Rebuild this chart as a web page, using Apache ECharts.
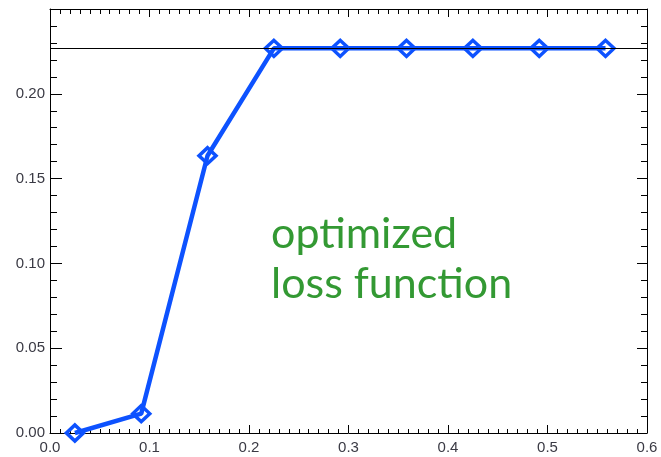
<!DOCTYPE html>
<html>
<head>
<meta charset="utf-8">
<script src="https://cdn.jsdelivr.net/npm/echarts@6/dist/echarts.min.js"></script>
<style>html,body{margin:0;padding:0;background:#fff;}#c{width:661px;height:457px;}</style>
</head>
<body>
<div id="c"></div>
<script>
const xValues = [0.025, 0.0917, 0.1583, 0.225, 0.2917, 0.3583, 0.425, 0.4917, 0.5583];
const yValues = [0.0, 0.0114, 0.1635, 0.2268, 0.2268, 0.2268, 0.2268, 0.2268, 0.2268];
const referenceLevel = 0.2268;
const annotationLines = ['optimized', 'loss function'];

const chart = echarts.init(document.getElementById('c'), null, {renderer: 'canvas'});
const axisCommon = {
  axisLine: {show: true, onZero: false, lineStyle: {color: '#000', width: 1}},
  splitLine: {show: false}
};
const option = {
  animation: false,
  backgroundColor: '#fff',
  grid: {left: 50, right: 14, top: 9, bottom: 24, containLabel: false},
  xAxis: [
    Object.assign({}, axisCommon, {
      type: 'value', min: 0, max: 0.6, interval: 0.1, position: 'bottom',
      axisTick: {show: true, inside: true, length: 8, lineStyle: {color: '#000'}},
      minorTick: {show: true, splitNumber: 10, length: 4, lineStyle: {color: '#000'}},
      axisLabel: {color: '#3a3a44', fontSize: 15, fontFamily: 'Liberation Sans, Arial', margin: 7,
        formatter: v => v.toFixed(1)}
    }),
    Object.assign({}, axisCommon, {
      type: 'value', min: 0, max: 0.6, interval: 0.1, position: 'top',
      axisTick: {show: true, inside: true, length: 8, lineStyle: {color: '#000'}},
      minorTick: {show: true, splitNumber: 10, length: 5, lineStyle: {color: '#000'}},
      axisLabel: {show: false}
    })
  ],
  yAxis: [
    Object.assign({}, axisCommon, {
      type: 'value', min: 0, max: 0.25, interval: 0.05, position: 'left',
      axisTick: {show: true, inside: true, length: 12, lineStyle: {color: '#000'}},
      minorTick: {show: true, splitNumber: 5, length: 7, lineStyle: {color: '#000'}},
      axisLabel: {color: '#3a3a44', fontSize: 15, fontFamily: 'Liberation Sans, Arial', margin: 5,
        formatter: v => v > 0.21 ? '' : v.toFixed(2)}
    }),
    Object.assign({}, axisCommon, {
      type: 'value', min: 0, max: 0.25, interval: 0.05, position: 'right',
      axisTick: {show: true, inside: true, length: 10, lineStyle: {color: '#000'}},
      minorTick: {show: true, splitNumber: 5, length: 6, lineStyle: {color: '#000'}},
      axisLabel: {show: false}
    })
  ],
  series: [{
    type: 'line',
    xAxisIndex: 0, yAxisIndex: 0,
    data: xValues.map((x, i) => [x, yValues[i]]),
    symbol: 'diamond',
    symbolSize: [17, 16],
    showAllSymbol: true,
    clip: false,
    lineStyle: {color: '#0d52ff', width: 4.5},
    itemStyle: {color: 'transparent', borderColor: '#0d52ff', borderWidth: 3.5},
    markLine: {
      silent: true, symbol: 'none', precision: 5,
      label: {show: false},
      lineStyle: {color: '#000', width: 1, type: 'solid'},
      data: [{yAxis: referenceLevel}]
    },
    z: 3
  }],
  graphic: [{
    type: 'text', left: 271, top: 209,
    style: {text: annotationLines.join('\n'), fill: '#339933', font: '43px Lato', lineHeight: 50}
  }]
};
chart.setOption(option);
</script>
</body>
</html>
